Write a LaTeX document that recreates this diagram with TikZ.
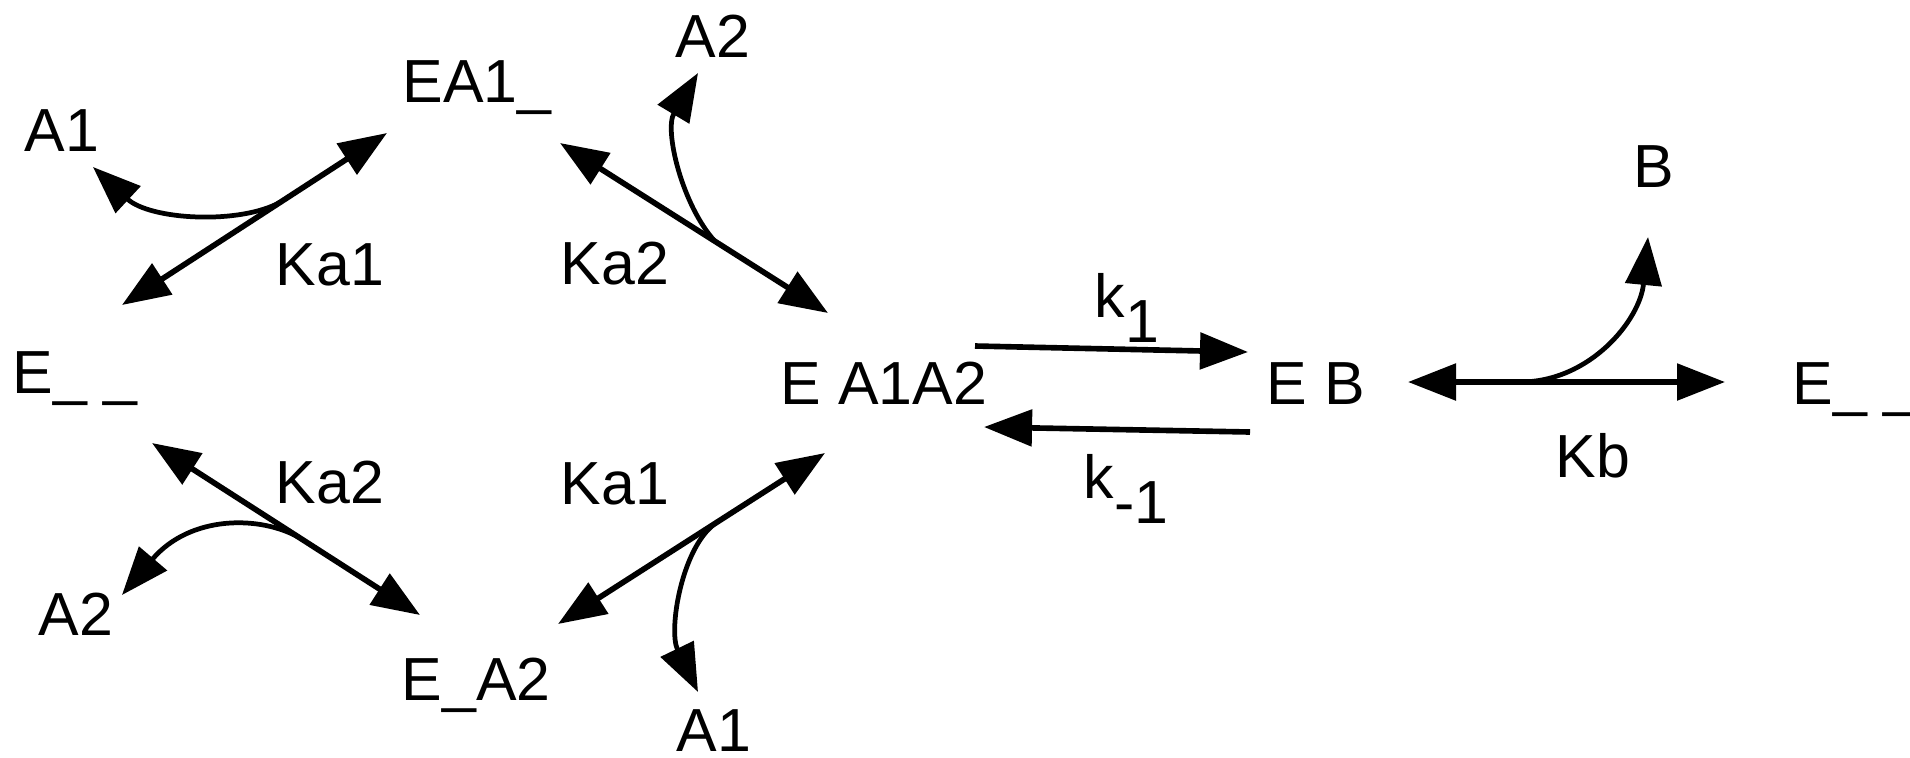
\documentclass[tikz,border=0pt]{standalone}
\usepackage{fontspec}
\setmainfont{Liberation Sans}
\usetikzlibrary{arrows.meta}

\begin{document}
\begin{tikzpicture}[
  x=0.01cm, y=-0.01cm,
  font=\fontsize{17.3pt}{20pt}\selectfont,
  species/.style = {anchor=base west, inner sep=0pt},
  both/.style = {{Triangle[length=4.8mm,width=3.6mm]}-{Triangle[length=4.8mm,width=3.6mm]}, line width=1.6pt},
  fwd/.style = {-{Triangle[length=4.8mm,width=3.6mm]}, line width=1.6pt},
  branch/.style = {-{Triangle[length=4.8mm,width=3.6mm]}, line width=1.35pt},
]
  \useasboundingbox (0,0) rectangle (1910,757);

  % species and constants
  \node[species] (a2top)  at (675,57)   {A2};
  \node[species] (ea1)    at (402,102)  {EA1\_};
  \node[species] (a1top)  at (24,151)   {A1};
  \node[species] (ka1top) at (275,285)  {Ka1};
  \node[species] (ka2top) at (560,284)  {Ka2};
  \node[species] (eleft)  at (12,393)   {E\_ \_};
  \node[species] (ea1a2)  at (780,404)  {E A1A2};
  \node[species] (eb)     at (1266,404) {E B};
  \node[species] (eright) at (1792,404) {E\_ \_};
  \node[species] (k1)     at (1094,317) {k\raisebox{-0.25cm}{1}};
  \node[species] (km1)    at (1083,498) {k\raisebox{-0.25cm}{-1}};
  \node[species] (b)      at (1633,187) {B};
  \node[species] (kb)     at (1555,477) {Kb};
  \node[species] (ka2bot) at (275,503)  {Ka2};
  \node[species] (ka1bot) at (560,504)  {Ka1};
  \node[species] (a2bot)  at (38,635)   {A2};
  \node[species] (ea2)    at (401,700)  {E\_A2};
  \node[species] (a1bot)  at (676,751)  {A1};

  % arrow ends
  \coordinate (ul-lo) at (122,305);  \coordinate (ul-hi) at (387,133);
  \coordinate (ur-hi) at (560,143);  \coordinate (ur-lo) at (828,313);
  \coordinate (ll-hi) at (152,443);  \coordinate (ll-lo) at (420,615);
  \coordinate (lr-lo) at (558,624);  \coordinate (lr-hi) at (825,453);
  \coordinate (f-from) at (975,346); \coordinate (f-to) at (1248,352);
  \coordinate (r-from) at (1250,432); \coordinate (r-to) at (984,427);
  \coordinate (eb-l) at (1408,382);  \coordinate (eb-r) at (1725,382);
  \coordinate (a1top-tip) at (93,167);
  \coordinate (a2top-tip) at (698,73);
  \coordinate (a2bot-tip) at (122,595);
  \coordinate (a1bot-tip) at (698,692);
  \coordinate (b-tip) at (1648,237);

  % binding steps
  \draw[both] (ul-lo) -- coordinate[pos=0.6] (ul-j) (ul-hi);
  \draw[branch] (ul-j) .. controls (240,225) and (150,220) .. (a1top-tip);
  \draw[both] (ur-hi) -- coordinate[pos=0.578] (ur-j) (ur-lo);
  \draw[branch] (ur-j) .. controls (682,205) and (664,130) .. (a2top-tip);
  \draw[both] (ll-hi) -- coordinate[pos=0.552] (ll-j) (ll-lo);
  \draw[branch] (ll-j) .. controls (260,515) and (190,515) .. (a2bot-tip);
  \draw[both] (lr-lo) -- coordinate[pos=0.596] (lr-j) (lr-hi);
  \draw[branch] (lr-j) .. controls (682,545) and (668,630) .. (a1bot-tip);

  % catalysis and release
  \draw[fwd] (f-from) -- (f-to);
  \draw[fwd] (r-from) -- (r-to);
  \draw[both] (eb-l) -- coordinate[pos=0.353] (eb-j) (eb-r);
  \draw[branch] (eb-j) .. controls (1590,382) and (1640,320) .. (b-tip);
\end{tikzpicture}
\end{document}
